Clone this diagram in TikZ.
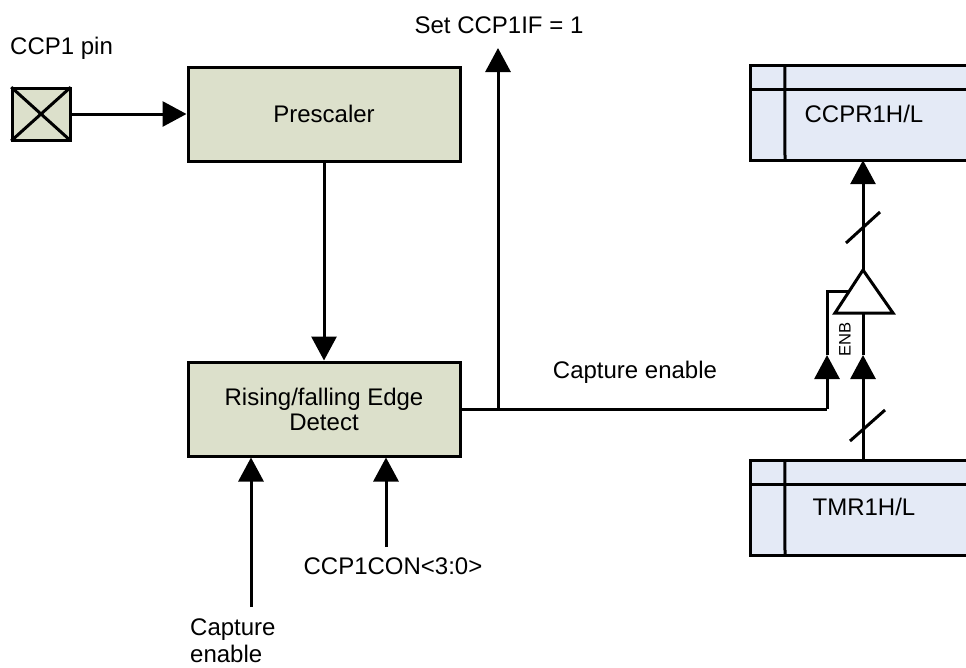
\documentclass[tikz,border=0pt]{standalone}
\usepackage{fontspec}
\setmainfont{Liberation Sans}
\usetikzlibrary{arrows.meta}
\definecolor{blockgreen}{HTML}{DCE0CB}
\definecolor{regblue}{HTML}{E4EAF6}
\tikzset{
	wire/.style={line width=3pt},
	tip/.style={wire, -{Triangle[length=24pt,width=25pt]}},
	lbl/.style={inner sep=0pt, font=\fontsize{24pt}{25pt}\selectfont, align=center},
	block/.style={draw, line width=3pt, fill=blockgreen, minimum width=272pt, minimum height=94pt, inner sep=0pt, lbl},
	reg/.style={fill=regblue, minimum width=215pt, minimum height=94pt, inner sep=0pt},
}
\begin{document}
\begin{tikzpicture}[x=1pt,y=-1pt]

\path [use as bounding box] (0,0) rectangle (966,667);

% PIN
\node [draw, line width=3pt, fill=blockgreen, minimum width=58pt, minimum height=52pt, inner sep=0pt] (pin) at (41,114) {};
\draw [line width=3pt, shorten <=1pt, shorten >=1pt] (pin.north west) -- (pin.south east);
\draw [line width=3pt, shorten <=1pt, shorten >=1pt] (pin.south west) -- (pin.north east);
\node [lbl, anchor=west] (pinlabel) at (10,48) {CCP1 pin};

% BLOCKS
\node [block] (prescaler) at (324,114) {Prescaler};
\node [block] (edge) at (324,409) {Rising/falling Edge\\Detect};

% REGISTERS
\node [reg] (ccpr) at (858.5,113) {};
\draw [wire] (ccpr.north east) -- (ccpr.north west) -- (ccpr.south west) -- (ccpr.south east);
\draw [wire] (ccpr.north west) ++(34,0) -- (ccpr.south west -| 785,0);
\draw [wire] (ccpr.north west) ++(0,24) -- +(215,0);
\node [lbl] (ccprlabel) at (864,114) {CCPR1H/L};

\node [reg] (tmr) at (858.5,508) {};
\draw [wire] (tmr.north east) -- (tmr.north west) -- (tmr.south west) -- (tmr.south east);
\draw [wire] (tmr.north west) ++(34,0) -- (tmr.south west -| 785,0);
\draw [wire] (tmr.north west) ++(0,24) -- +(215,0);
\node [lbl] (tmrlabel) at (864,507) {TMR1H/L};

% BUFFER
\coordinate (apex) at (863,270);
\coordinate (baseleft) at (835,313);
\coordinate (baseright) at (893,313);
\coordinate (basemid) at (863,313);
\coordinate (enbin) at (849,291);
\coordinate (enbcorner) at (827,291);
\coordinate (enbtip) at (827,355);
\coordinate (datatip) at (863,355);
\draw [wire, fill=white] (apex) -- (baseleft) -- (baseright) -- cycle;

% CONNECTORS
\coordinate (branch) at (498,409);
\coordinate (bend) at (827,409);
\coordinate (flag) at (498,48);
\coordinate (cap) at (251,607);
\coordinate (con) at (386,547);
\draw [tip] (pin.east) -- (prescaler.west);
\draw [tip] (prescaler.south) -- (edge.north);
\draw [wire] (edge.east) -- (bend);
\draw [tip] (bend) -- (enbtip);
\draw [wire] (enbtip) -- (enbcorner) -- (enbin);
\draw [tip] (branch) -- (flag);
\draw [tip] (cap) -- (cap |- edge.south);
\draw [tip] (con) -- (con |- edge.south);
\draw [tip] (tmr.north -| datatip) -- (datatip);
\draw [wire] (datatip) -- (basemid);
\draw [tip] (apex) -- (apex |- ccpr.south);

% BUS MARKS
\draw [wire] (846,243) -- (880,212);
\draw [wire] (850,441) -- (885,410);

% LABELS
\node [lbl] (setflag) at (499,25) {Set CCP1IF = 1};
\node [lbl] (capen) at (635,372) {Capture enable};
\node [lbl] (conlabel) at (393,566) {CCP1CON<3:0>};
\node [lbl, anchor=west, align=left, font=\fontsize{24pt}{27pt}\selectfont] (caplabel) at (190,641) {Capture\\enable};
\node [lbl, rotate=90, font=\fontsize{16.6pt}{18pt}\selectfont] (enb) at (845,339) {ENB};

\end{tikzpicture}
\end{document}
